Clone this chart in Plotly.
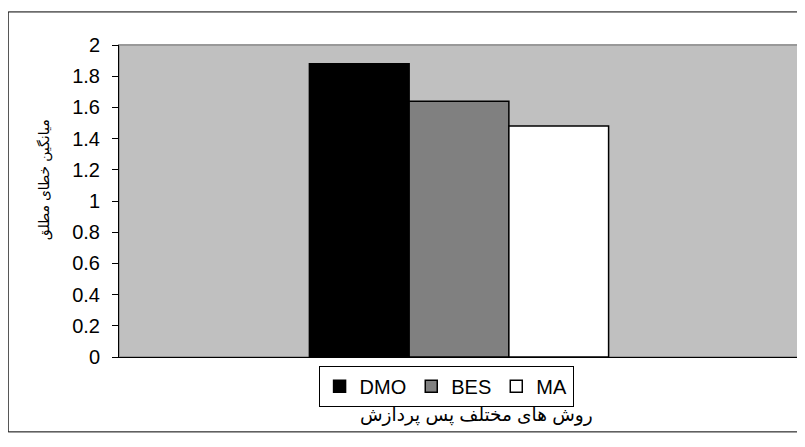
import plotly.graph_objects as go

categories = [""]
series_names = ["DMO", "BES", "MA"]
series_values = [[1.88], [1.64], [1.48]]
series_colors = ["#000000", "#808080", "#FFFFFF"]
y_ticks = [0, 0.2, 0.4, 0.6, 0.8, 1, 1.2, 1.4, 1.6, 1.8, 2]
y_title = "میانگین خطای مطلق"
x_title = "روش های مختلف پس پردازش"

fig = go.Figure()
for name, vals, col in zip(series_names, series_values, series_colors):
    fig.add_trace(go.Bar(
        x=categories, y=vals, name=name,
        marker=dict(color=col, line=dict(color="#000000", width=1.5)),
    ))

fig.update_layout(
    width=797, height=439,
    margin=dict(l=111, r=6, t=37, b=90),
    paper_bgcolor="white",
    plot_bgcolor="#C0C0C0",
    barmode="group",
    bargap=0.56,
    bargroupgap=0,
    font=dict(family="Arial, Liberation Sans, DejaVu Sans", size=13, color="#000000"),
    showlegend=True,
    legend=dict(
        orientation="h", x=0.481, xanchor="center", y=-0.028, yanchor="top",
        bordercolor="#000000", borderwidth=1, bgcolor="white",
        font=dict(size=20), itemwidth=30, tracegroupgap=0,
    ),
    xaxis=dict(showticklabels=False, ticks="", showgrid=False, zeroline=False,
               showline=True, linecolor="#000000", linewidth=1),
    yaxis=dict(range=[0, 2], tickvals=y_ticks, ticktext=[str(t) for t in y_ticks],
               ticks="outside", ticklen=6, tickcolor="#000000",
               ticklabelstandoff=8,
               showgrid=False, zeroline=False, showline=True,
               linecolor="#000000", linewidth=1, tickfont=dict(size=20)),
    shapes=[
        dict(type="rect", xref="paper", yref="paper", x0=0, x1=1, y0=0, y1=1,
             line=dict(color="#999999", width=2), fillcolor="rgba(0,0,0,0)", layer="below"),
        dict(type="rect", xref="paper", yref="paper", x0=-0.163, x1=1.007, y0=-0.24, y1=1.106,
             line=dict(color="#000000", width=1), fillcolor="rgba(0,0,0,0)"),
    ],
    annotations=[
        dict(text=y_title, xref="paper", yref="paper", x=-0.11, y=0.567, textangle=-90,
             showarrow=False, font=dict(size=14), xanchor="center", yanchor="middle"),
        dict(text=x_title, xref="paper", yref="paper", x=0.525, y=-0.185,
             showarrow=False, font=dict(size=18.5), xanchor="center", yanchor="middle"),
    ],
)

fig.write_html("out.html")
